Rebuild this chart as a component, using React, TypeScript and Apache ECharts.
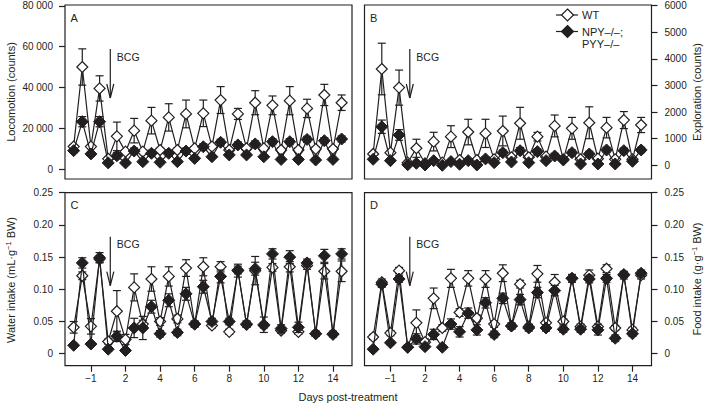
import React, { useEffect, useRef } from 'react';
import * as echarts from 'echarts';

// Sampling times (days relative to BCG; day 0 is not shown on the axis)
const DAYS = [-2, -1.5, -1, -0.5, 1, 1.5, 2, 2.5, 3, 3.5, 4, 4.5, 5, 5.5, 6, 6.5, 7, 7.5, 8, 8.5, 9, 9.5, 10, 10.5, 11, 11.5, 12, 12.5, 13, 13.5, 14, 14.5];
const TICK_DAYS = [-1, 2, 4, 6, 8, 10, 12, 14];

// A: Locomotion (counts)
const locoWT = [11000, 50000, 11000, 39500, 5000, 16000, 8500, 18800, 8500, 23700, 9300, 25300, 9300, 27000, 10100, 27300, 11000, 33800, 9300, 27000, 10100, 32500, 10100, 31200, 9300, 33500, 9300, 29700, 9800, 36300, 9800, 32500];
const locoWTErr = [1000, 8900, 1000, 6200, 800, 7000, 1000, 6000, 1000, 6500, 1000, 6700, 1000, 6800, 1000, 6500, 1000, 6600, 1000, 2700, 1000, 5900, 1000, 4600, 1000, 6900, 1000, 4500, 1000, 5200, 1000, 3800];
const locoKO = [9000, 23200, 7400, 23200, 3000, 6500, 3000, 8800, 3600, 7700, 3300, 7700, 3600, 8800, 5200, 10900, 6000, 13100, 6900, 11800, 6900, 12300, 6000, 13400, 4700, 13400, 4700, 14500, 4400, 13900, 4700, 14700];
const locoKOErr = [1000, 2500, 1000, 2500, 800, 1500, 800, 1500, 800, 1500, 800, 1500, 800, 1500, 800, 1500, 800, 1500, 800, 1500, 800, 1500, 800, 1500, 800, 1500, 800, 1500, 800, 1500, 800, 1500];

// B: Exploration (counts)
const exploWT = [426, 3620, 476, 2920, 100, 640, 75, 890, 100, 1077, 200, 1250, 200, 1200, 225, 1290, 300, 1580, 300, 1077, 326, 1480, 225, 1390, 225, 1600, 250, 1415, 225, 1700, 225, 1515];
const exploWTErr = [60, 970, 60, 660, 40, 340, 40, 350, 40, 410, 50, 480, 50, 530, 50, 560, 60, 600, 60, 160, 60, 410, 50, 410, 50, 600, 50, 385, 50, 320, 50, 285];
const exploKO = [226, 1450, 175, 1140, 20, 75, 12, 175, 0, 140, 40, 175, 12, 240, 100, 476, 125, 550, 100, 514, 175, 350, 200, 476, 50, 426, 50, 576, 50, 550, 150, 576];
const exploKOErr = [50, 250, 50, 200, 30, 60, 30, 60, 30, 60, 30, 60, 30, 70, 30, 100, 40, 120, 40, 100, 40, 100, 40, 100, 30, 100, 30, 100, 30, 100, 40, 100];

// C: Water intake (mL/g BW)
const waterWT = [0.041, 0.121, 0.0425, 0.147, 0.019, 0.066, 0.022, 0.103, 0.046, 0.116, 0.05, 0.12, 0.054, 0.133, 0.046, 0.135, 0.044, 0.135, 0.034, 0.13, 0.045, 0.129, 0.044, 0.134, 0.036, 0.135, 0.034, 0.137, 0.031, 0.128, 0.031, 0.128];
const waterWTErr = [0.009, 0.006, 0.012, 0.005, 0.004, 0.032, 0.008, 0.021, 0.006, 0.019, 0.006, 0.015, 0.006, 0.013, 0.004, 0.014, 0.004, 0.008, 0.004, 0.006, 0.004, 0.022, 0.004, 0.006, 0.004, 0.008, 0.004, 0.006, 0.004, 0.012, 0.004, 0.016];
const waterKO = [0.013, 0.141, 0.015, 0.149, 0.007, 0.027, 0.005, 0.04, 0.04, 0.073, 0.031, 0.083, 0.033, 0.093, 0.046, 0.104, 0.05, 0.12, 0.05, 0.129, 0.046, 0.132, 0.045, 0.155, 0.039, 0.15, 0.041, 0.141, 0.031, 0.152, 0.03, 0.155];
const waterKOErr = [0.003, 0.008, 0.003, 0.008, 0.003, 0.008, 0.003, 0.015, 0.018, 0.01, 0.005, 0.01, 0.005, 0.01, 0.005, 0.01, 0.005, 0.01, 0.005, 0.01, 0.005, 0.01, 0.012, 0.008, 0.006, 0.01, 0.008, 0.006, 0.004, 0.01, 0.004, 0.008];

// D: Food intake (g/g BW)
const foodWT = [0.026, 0.111, 0.032, 0.129, 0.01, 0.048, 0.018, 0.086, 0.04, 0.117, 0.064, 0.117, 0.055, 0.116, 0.046, 0.125, 0.043, 0.108, 0.042, 0.124, 0.048, 0.111, 0.05, 0.117, 0.042, 0.122, 0.042, 0.132, 0.04, 0.122, 0.037, 0.122];
const foodWTErr = [0.004, 0.005, 0.004, 0.005, 0.003, 0.02, 0.005, 0.016, 0.005, 0.014, 0.006, 0.012, 0.005, 0.013, 0.005, 0.013, 0.004, 0.006, 0.004, 0.013, 0.004, 0.012, 0.004, 0.006, 0.004, 0.008, 0.004, 0.006, 0.004, 0.006, 0.004, 0.006];
const foodKO = [0.007, 0.108, 0.017, 0.116, 0.01, 0.023, 0.011, 0.03, 0.01, 0.046, 0.034, 0.063, 0.037, 0.079, 0.03, 0.086, 0.043, 0.084, 0.04, 0.095, 0.04, 0.098, 0.038, 0.117, 0.038, 0.116, 0.037, 0.117, 0.024, 0.123, 0.031, 0.125];
const foodKOErr = [0.003, 0.005, 0.003, 0.005, 0.003, 0.008, 0.003, 0.008, 0.003, 0.008, 0.008, 0.008, 0.008, 0.008, 0.005, 0.008, 0.005, 0.008, 0.005, 0.008, 0.005, 0.008, 0.005, 0.006, 0.005, 0.006, 0.008, 0.006, 0.005, 0.004, 0.004, 0.005];

const LOCO_TICKS = [0, 20000, 40000, 60000, 80000];
const EXPLO_TICKS = [0, 1000, 2000, 3000, 4000, 5000, 6000];
const INTAKE_TICKS = [0, 0.05, 0.1, 0.15, 0.2, 0.25];

const INK = '#231f20';
const FONT = '"Liberation Sans", Arial, Helvetica, sans-serif';
const LW = 1.2;

// axis break: pre-treatment days shifted by +1 so day 0 is skipped
const axisPos = (d: number) => (d < 0 ? d + 1 : d);
const X_MIN = -1.5;
const X_MAX = 15.1;

const fmtThousands = (v: number) =>
  v >= 1000 ? `${Math.floor(v / 1000)} ${String(v % 1000).padStart(3, '0')}` : String(v);
const fmtPlain = (v: number) => String(v);
const fmtDec = (v: number) => (Math.abs(v) < 1e-9 ? '0' : v.toFixed(2));

const GRID_W = 287;
const panels = [
  { letter: 'A', left: 65, top: 5, height: 174, wt: locoWT, wtErr: locoWTErr, ko: locoKO, koErr: locoKOErr, yMin: -4900, yMax: 80400, ticks: LOCO_TICKS, fmt: fmtThousands, side: 'left', showX: false },
  { letter: 'B', left: 364.5, top: 5, height: 174, wt: exploWT, wtErr: exploWTErr, ko: exploKO, koErr: exploKOErr, yMin: -515, yMax: 6026, ticks: EXPLO_TICKS, fmt: fmtPlain, side: 'right', showX: false },
  { letter: 'C', left: 65, top: 192.7, height: 173, wt: waterWT, wtErr: waterWTErr, ko: waterKO, koErr: waterKOErr, yMin: -0.0186, yMax: 0.25, ticks: INTAKE_TICKS, fmt: fmtDec, side: 'left', showX: true },
  { letter: 'D', left: 364.5, top: 192.7, height: 173, wt: foodWT, wtErr: foodWTErr, ko: foodKO, koErr: foodKOErr, yMin: -0.0186, yMax: 0.25, ticks: INTAKE_TICKS, fmt: fmtDec, side: 'right', showX: true },
];

const renderErr = (params: any, api: any) => {
  const x = api.value(0);
  const lo = api.coord([x, api.value(1)]);
  const hi = api.coord([x, api.value(2)]);
  const cap = 4;
  const style = { stroke: INK, lineWidth: LW };
  return {
    type: 'group',
    children: [
      { type: 'line', shape: { x1: lo[0], y1: lo[1], x2: hi[0], y2: hi[1] }, style },
      { type: 'line', shape: { x1: hi[0] - cap, y1: hi[1], x2: hi[0] + cap, y2: hi[1] }, style },
      { type: 'line', shape: { x1: lo[0] - cap, y1: lo[1], x2: lo[0] + cap, y2: lo[1] }, style },
    ],
  };
};

const txt = (x: number, y: number, text: string, extra: any = {}) => ({
  type: 'text',
  x,
  y,
  silent: true,
  style: { text, fill: INK, font: `11px ${FONT}`, textAlign: 'left', textVerticalAlign: 'middle', ...extra },
});

const seg = (x1: number, y1: number, x2: number, y2: number) => ({
  type: 'line',
  silent: true,
  shape: { x1, y1, x2, y2 },
  style: { stroke: INK, lineWidth: LW },
});

export default function App() {
  const ref = useRef<HTMLDivElement>(null);
  useEffect(() => {
    document.body.style.margin = '0';
    const chart = echarts.init(ref.current!, null, { renderer: 'svg' });
    const pxPerU = GRID_W / (X_MAX - X_MIN);
    const tickPos = TICK_DAYS.map(axisPos);
    const tickLabel = (v: number) => {
      const k = tickPos.findIndex((p) => Math.abs(p - v) < 1e-6);
      const d = k >= 0 ? TICK_DAYS[k] : v;
      return d < 0 ? '\u2212' + Math.abs(d) : String(d);
    };

    const series: any[] = [];
    panels.forEach((p, i) => {
      series.push({
        type: 'custom', xAxisIndex: i, yAxisIndex: i, silent: true, z: 2,
        renderItem: renderErr, encode: { x: 0, y: [1, 2] },
        data: DAYS.map((d, k) => [axisPos(d), p.wt[k] - p.wtErr[k], p.wt[k] + p.wtErr[k]]),
      });
      series.push({
        type: 'line', name: 'WT', xAxisIndex: i, yAxisIndex: i, z: 3,
        data: DAYS.map((d, k) => [axisPos(d), p.wt[k]]),
        symbol: 'diamond', symbolSize: 11, showAllSymbol: true,
        lineStyle: { color: INK, width: LW },
        itemStyle: { color: '#ffffff', borderColor: INK, borderWidth: LW },
        emphasis: { disabled: true },
      });
      series.push({
        type: 'custom', xAxisIndex: i, yAxisIndex: i, silent: true, z: 4,
        renderItem: renderErr, encode: { x: 0, y: [1, 2] },
        data: DAYS.map((d, k) => [axisPos(d), p.ko[k] - p.koErr[k], p.ko[k] + p.koErr[k]]),
      });
      series.push({
        type: 'line', name: 'NPY–/–; PYY–/–', xAxisIndex: i, yAxisIndex: i, z: 5,
        data: DAYS.map((d, k) => [axisPos(d), p.ko[k]]),
        symbol: 'diamond', symbolSize: 12, showAllSymbol: true,
        lineStyle: { color: INK, width: LW },
        itemStyle: { color: INK, borderColor: INK, borderWidth: 1 },
        emphasis: { disabled: true },
      });
    });

    const graphics: any[] = [];
    panels.forEach((p) => {
      graphics.push(txt(p.left + 5.5, p.top + 12.5, p.letter));
      const ax = p.left + (1.12 - X_MIN) * pxPerU;
      const top = p.top + 44;
      const tip = p.top + 93;
      graphics.push(seg(ax, top, ax, tip));
      graphics.push(seg(ax - 3.5, tip - 14, ax, tip));
      graphics.push(seg(ax + 3.5, tip - 14, ax, tip));
      graphics.push(txt(ax + 6.5, top + 7.5, 'BCG', { font: `10.5px ${FONT}` }));
    });
    // axis titles
    const rot = Math.PI / 2;
    graphics.push({ ...txt(11, 92, 'Locomotion (counts)', { textAlign: 'center' }), rotation: rot });
    graphics.push({ ...txt(697, 92, 'Exploration (counts)', { textAlign: 'center' }), rotation: rot });
    const richSup = {
      n: { fontSize: 11, fontFamily: FONT, fill: INK, lineHeight: 14 },
      s: { fontSize: 7.5, fontFamily: FONT, fill: INK, lineHeight: 14, verticalAlign: 'top' },
    };
    graphics.push({
      type: 'text', x: 11, y: 280, rotation: rot, silent: true,
      style: { text: '{n|Water intake (mL·g}{s|\u22121}{n| BW)}', rich: richSup, fill: INK, font: `11px ${FONT}`, textAlign: 'center', textVerticalAlign: 'middle' },
    });
    graphics.push({
      type: 'text', x: 697, y: 279, rotation: rot, silent: true,
      style: { text: '{n|Food intake (g·g}{s|\u22121}{n| BW)}', rich: richSup, fill: INK, font: `11px ${FONT}`, textAlign: 'center', textVerticalAlign: 'middle' },
    });
    graphics.push(txt(348, 397, 'Days post-treatment', { textAlign: 'center' }));

    // legend
    const lx1 = 556, lx2 = 578, lc = 567.5, ds = 6;
    const diamond = (cx: number, cy: number, fill: string) => ({
      type: 'polygon', silent: true,
      shape: { points: [[cx, cy - ds], [cx + ds, cy], [cx, cy + ds], [cx - ds, cy]] },
      style: { fill, stroke: INK, lineWidth: LW },
    });
    graphics.push(seg(lx1, 15, lx2, 15));
    graphics.push(diamond(lc, 15, '#ffffff'));
    graphics.push(txt(582, 15, 'WT'));
    graphics.push(seg(lx1, 31.5, lx2, 31.5));
    graphics.push(diamond(lc, 31.5, INK));
    graphics.push(txt(582, 31.5, 'NPY–/–;'));
    graphics.push(txt(582, 43.5, 'PYY–/–'));

    const option: any = {
      animation: false,
      grid: panels.map((p) => ({
        left: p.left, top: p.top, width: GRID_W, height: p.height,
        show: true, borderColor: INK, borderWidth: LW, backgroundColor: 'transparent',
        containLabel: false, outerBoundsMode: 'none',
      })),
      xAxis: panels.map((p, i) => ({
        type: 'value', gridIndex: i, min: X_MIN, max: X_MAX, position: 'bottom',
        axisLine: { show: false, onZero: false }, splitLine: { show: false },
        axisTick: { show: p.showX, length: 6, customValues: tickPos, lineStyle: { color: INK, width: LW } },
        axisLabel: { show: p.showX, customValues: tickPos, formatter: tickLabel, margin: 8, fontSize: 10, color: INK, fontFamily: FONT },
      })),
      yAxis: panels.map((p, i) => ({
        type: 'value', gridIndex: i, min: p.yMin, max: p.yMax, position: p.side,
        axisLine: { show: false, onZero: false }, splitLine: { show: false },
        axisTick: { show: true, length: 6, customValues: p.ticks, lineStyle: { color: INK, width: LW } },
        axisLabel: { customValues: p.ticks, formatter: p.fmt, margin: p.side === 'left' ? 12 : 13, fontSize: 10, color: INK, fontFamily: FONT },
      })),
      series,
      graphic: graphics,
    };
    chart.setOption(option);
    return () => chart.dispose();
  }, []);
  return <div ref={ref} style={{ width: 707, height: 404 }} />;
}
